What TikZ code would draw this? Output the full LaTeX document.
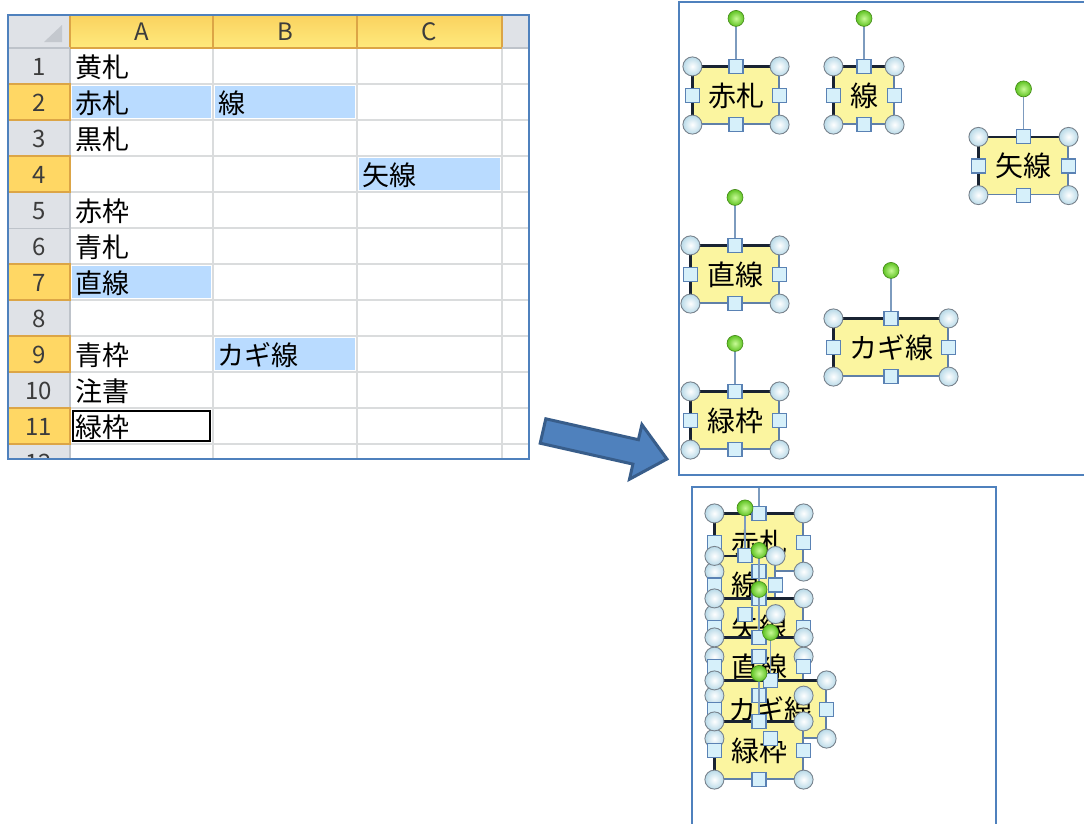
\documentclass[tikz,border=0pt]{standalone}
\usepackage{fontspec}
\newfontfamily\jp{Noto Sans CJK JP}
\usetikzlibrary{calc}
\definecolor{sheetblue}{RGB}{79,129,189}
\definecolor{gridgray}{RGB}{218,220,221}
\definecolor{hdrgray}{RGB}{223,226,231}
\definecolor{hdrline}{RGB}{190,195,202}
\definecolor{tricol}{RGB}{196,200,206}
\definecolor{selyeltop}{RGB}{250,210,95}
\definecolor{selyelbot}{RGB}{255,234,125}
\definecolor{rowsel}{RGB}{255,215,100}
\definecolor{selline}{RGB}{220,165,70}
\definecolor{cellblue}{RGB}{185,219,255}
\definecolor{numgray}{RGB}{60,60,60}
\definecolor{shapeyellow}{RGB}{251,245,160}
\definecolor{shapeedge}{RGB}{96,128,168}
\definecolor{shapedark}{RGB}{25,35,50}
\definecolor{hcircle}{RGB}{185,218,232}
\definecolor{hcircleline}{RGB}{120,130,140}
\definecolor{hsquare}{RGB}{214,240,250}
\definecolor{hsquareline}{RGB}{90,130,180}
\definecolor{rotgreen}{RGB}{95,195,35}
\definecolor{rotlight}{RGB}{200,250,150}
\definecolor{rotcol}{RGB}{125,155,190}
\definecolor{arrowfill}{RGB}{79,129,189}
\definecolor{arrowline}{RGB}{56,93,138}
\newcommand\shpedge[1]{\draw[shapedark, line width=2.5pt, line cap=round] (#1.south west) -- (#1.north west) -- (#1.north east);}
\newcommand\shphandles[1]{%
  \draw[rotln] (#1.north) -- ++(0,-48) node[roth] (#1-g) {};
  \foreach \a/\n in {north west/nw, north east/ne, south west/sw, south east/se} {\node[cornerh] (#1-\n) at (#1.\a) {};}
  \foreach \a/\n in {north/n, south/s, east/e, west/w} {\node[edgeh] (#1-\n) at (#1.\a) {};}
}
\begin{document}
\begin{tikzpicture}[x=1pt,y=-1pt,
  cell/.style={anchor=west, inner sep=0pt, font=\jp\fontsize{27}{27}\selectfont},
  rownum/.style={inner sep=0pt, text=numgray, font=\jp\fontsize{24}{24}\selectfont},
  colhdr/.style={inner sep=0pt, text=numgray, font=\jp\fontsize{24}{24}\selectfont},
  shp/.style={draw=shapeedge, line width=1.2pt, fill=shapeyellow, inner sep=0pt, minimum height=57pt, font=\jp\fontsize{28}{28}\selectfont},
  cornerh/.style={circle, minimum size=19pt, inner sep=0pt, draw=hcircleline, line width=0.9pt, inner color=white, outer color=hcircle},
  edgeh/.style={rectangle, minimum size=14pt, inner sep=0pt, draw=hsquareline, line width=1.1pt, fill=hsquare},
  roth/.style={circle, minimum size=16pt, inner sep=0pt, draw=rotgreen!70!black, line width=0.6pt, inner color=rotlight, outer color=rotgreen},
  rotln/.style={draw=rotcol, line width=1.8pt},
  grid/.style={draw=gridgray, line width=1.5pt}
]
\useasboundingbox (0,0) rectangle (1084,823);
\fill[white] (0,0) rectangle (1084,823);

% ---------------- spreadsheet ----------------
\begin{scope}
\clip (8,15) rectangle (529,459);
\fill[white] (8,15) rectangle (529,459);
\fill[hdrgray] (8,48) rectangle (70,459);
\foreach \r in {2,4,7,9,11} {\fill[rowsel] (8,{48+36*(\r-1)}) rectangle (70,{48+36*\r});}
\foreach \y in {84,120,...,444} {\draw[grid] (70,\y) -- (529,\y); \draw[hdrline, line width=1pt] (8,\y) -- (70,\y);}
\foreach \x in {213,357,502} {\draw[grid] (\x,48) -- (\x,459);}
\draw[hdrline, line width=1.5pt] (70,48) -- (70,459);
\foreach \r in {2,4,7,9,11} {\draw[selline, line width=1.5pt] (8,{48+36*(\r-1)}) -- (70,{48+36*(\r-1)}) -- (70,{48+36*\r}) -- (8,{48+36*\r});}
\fill[hdrgray] (8,15) rectangle (70,48);
\fill[tricol] (62,25) -- (62,42) -- (44,42) -- cycle;
\fill[hdrgray] (502,15) rectangle (529,48);
\shade[top color=selyeltop, bottom color=selyelbot] (70,15) rectangle (502,48);
\foreach \x in {70,213,357,502} {\draw[selline, line width=1.5pt] (\x,15) -- (\x,48);}
\draw[selline, line width=2pt] (70,48) -- (502,48);
\draw[hdrline, line width=1.5pt] (8,48) -- (70,48);
\draw[hdrline, line width=1.5pt] (502,48) -- (529,48);
\node[colhdr] (hA) at (141.5,32) {A};
\node[colhdr] (hB) at (285,32) {B};
\node[colhdr] (hC) at (429.5,32) {C};
\foreach \r in {1,...,12} {\node[rownum] (r\r) at (39,{67+36*(\r-1)}) {\r};}
\fill[cellblue] (72,86) rectangle (211,118);
\fill[cellblue] (215,86) rectangle (355,118);
\fill[cellblue] (359,158) rectangle (500,190);
\fill[cellblue] (72,266) rectangle (211,298);
\fill[cellblue] (215,338) rectangle (355,370);
\draw[black, line width=2pt] (73,411) rectangle (210,441);
\node[cell] (cA1) at (75,67) {黄札};
\node[cell] (cA2) at (75,103) {赤札};
\node[cell] (cB2) at (218,103) {線};
\node[cell] (cA3) at (75,139) {黒札};
\node[cell] (cC4) at (362,175) {矢線};
\node[cell] (cA5) at (75,211) {赤枠};
\node[cell] (cA6) at (75,247) {青札};
\node[cell] (cA7) at (75,283) {直線};
\node[cell] (cA9) at (75,355) {青枠};
\node[cell] (cB9) at (217,355) {カギ線};
\node[cell] (cA10) at (75,391) {注書};
\node[cell] (cA11) at (75,427) {緑枠};
\end{scope}
\draw[sheetblue, line width=2pt] (8,15) rectangle (529,459);

% ---------------- block arrow ----------------
\path[fill=arrowfill, draw=arrowline, line width=3pt, line join=miter]
  (545.8,418.8) -- (638.4,439.7) -- (641.9,424.6) -- (666.9,459) -- (629.5,479.2) -- (632.9,464.1) -- (540.2,443.2) -- cycle;

% ---------------- panel 1 ----------------
\draw[sheetblue, line width=1.5pt] (1095,2) -- (679,2) -- (679,475) -- (1095,475);
\node[shp, minimum width=86pt] (a1) at (736,95.5) {赤札}; \shpedge{a1} \shphandles{a1}
\node[shp, minimum width=60pt] (a2) at (864,95.5) {線}; \shpedge{a2} \shphandles{a2}
\node[shp, minimum width=89pt] (a3) at (1023.5,166) {矢線}; \shpedge{a3} \shphandles{a3}
\node[shp, minimum width=88pt] (a4) at (735,274.5) {直線}; \shpedge{a4} \shphandles{a4}
\node[shp, minimum width=114pt] (a5) at (891,347.5) {カギ線}; \shpedge{a5} \shphandles{a5}
\node[shp, minimum width=88pt] (a6) at (735,420.5) {緑枠}; \shpedge{a6} \shphandles{a6}

% ---------------- panel 2 ----------------
\begin{scope}
\clip (692,487) rectangle (996,830);
\node[shp, minimum width=88pt] (b1) at (759,542.5) {赤札}; \shpedge{b1}
\node[shp, minimum width=60pt] (b2) at (745,585) {線}; \shpedge{b2}
\node[shp, minimum width=88pt] (b3) at (759,627.5) {矢線}; \shpedge{b3}
\node[shp, minimum width=88pt] (b4) at (759,666.5) {直線}; \shpedge{b4}
\node[shp, minimum width=111pt] (b5) at (770.5,709.5) {カギ線}; \shpedge{b5}
\node[shp, minimum width=88pt] (b6) at (759,750.5) {緑枠}; \shpedge{b6}
\shphandles{b1} \shphandles{b2} \shphandles{b3} \shphandles{b4} \shphandles{b5} \shphandles{b6}
\end{scope}
\draw[sheetblue, line width=1.5pt] (692,830) -- (692,487) -- (996,487) -- (996,830);
\end{tikzpicture}
\end{document}
